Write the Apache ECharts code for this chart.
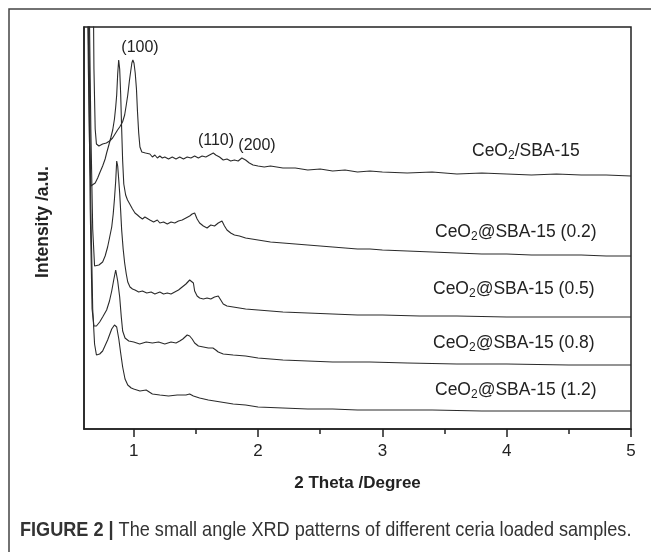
<!DOCTYPE html>
<html>
<head>
<meta charset="utf-8">
<script src="https://cdn.jsdelivr.net/npm/echarts@6/dist/echarts.min.js"></script>
<style>
html,body{margin:0;padding:0;background:#fff;}
#chart{width:651px;height:552px;}
</style>
</head>
<body>
<div id="chart"></div>
<script>
// Tick values
var majorTicks = [1, 2, 3, 4, 5];
var minorTicks = [1.5, 2.5, 3.5, 4.5];

// Series names
var seriesNames = ['CeO2/SBA-15', 'CeO2@SBA-15 (0.2)', 'CeO2@SBA-15 (0.5)', 'CeO2@SBA-15 (0.8)', 'CeO2@SBA-15 (1.2)'];

// Stacked intensity (offset, a.u.) vs 2 theta
var sbaCeO2 = [[0.665,700],[0.672,480],[0.68,360],[0.69,300],[0.70,285],[0.72,283],[0.75,285],[0.78,286],[0.806,288],[0.83,291],[0.85,295],[0.87,299],[0.887,302],[0.91,307],[0.927,314],[0.94,324],[0.952,334],[0.965,348],[0.976,358],[0.985,366],[0.993,369],[1.002,366],[1.012,356],[1.022,340],[1.03,318],[1.04,296],[1.05,282],[1.065,277],[1.08,275],[1.095,276],[1.11,274],[1.13,275],[1.15,272],[1.17,274],[1.19,271],[1.21,273],[1.23,271],[1.25,272],[1.28,270],[1.31,272],[1.34,270],[1.37,272],[1.40,270],[1.43,272],[1.46,271],[1.49,273],[1.52,271],[1.55,273],[1.58,272],[1.61,274],[1.64,276],[1.66,274],[1.69,272],[1.72,269],[1.75,270],[1.78,268],[1.81,269],[1.84,268],[1.87,271],[1.90,269],[1.93,266],[1.96,264],[2.0,263],[2.05,262],[2.1,263],[2.2,261],[2.3,261],[2.4,259],[2.5,260],[2.6,258],[2.7,259],[2.8,257],[2.9,258],[3.0,257],[3.2,256],[3.4,257],[3.6,255],[3.8,256],[4.0,255],[4.2,254],[4.4,255],[4.6,254],[4.8,254],[5.0,253]];
var sba02 = [[0.615,700],[0.625,480],[0.635,360],[0.645,280],[0.655,243],[0.67,242],[0.69,246],[0.71,251],[0.726,256],[0.75,263],[0.77,270],[0.782,276],[0.80,284],[0.815,291],[0.831,299],[0.845,310],[0.855,322],[0.863,334],[0.871,355],[0.879,369],[0.887,360],[0.895,335],[0.903,300],[0.911,268],[0.92,245],[0.935,234],[0.95,229],[0.968,225],[0.99,220],[1.01,216],[1.03,214],[1.048,212],[1.07,210],[1.09,212],[1.105,210],[1.13,209],[1.16,207],[1.19,209],[1.21,206],[1.24,207],[1.27,205],[1.30,207],[1.33,206],[1.36,208],[1.39,209],[1.42,211],[1.45,213],[1.47,215],[1.49,216],[1.51,210],[1.53,206],[1.56,203],[1.59,201],[1.62,204],[1.65,203],[1.68,206],[1.71,208],[1.73,203],[1.75,199],[1.78,196],[1.81,194],[1.85,193],[1.9,191],[1.95,190],[2.0,189],[2.1,187],[2.2,186],[2.3,185],[2.4,184],[2.5,183],[2.6,182],[2.7,181],[2.8,180],[2.9,180],[3.0,179],[3.2,178],[3.4,177],[3.6,176],[3.8,175],[4.0,175],[4.2,174],[4.4,174],[4.6,174],[4.8,173],[5.0,173]];
var sba05 = [[0.625,700],[0.64,450],[0.655,300],[0.67,200],[0.685,163],[0.70,162],[0.72,164],[0.75,167],[0.77,173],[0.79,182],[0.805,191],[0.823,202],[0.835,215],[0.845,230],[0.855,248],[0.863,268],[0.871,263],[0.879,250],[0.887,236],[0.895,218],[0.903,199],[0.915,180],[0.927,166],[0.94,155],[0.952,147],[0.97,142],[0.99,140],[1.01,139],[1.04,137],[1.07,138],[1.105,136],[1.14,137],[1.17,135],[1.21,137],[1.24,135],[1.27,136],[1.30,135],[1.33,137],[1.36,139],[1.39,142],[1.42,145],[1.45,149],[1.465,151],[1.48,146],[1.49,138],[1.51,133],[1.53,131],[1.56,130],[1.59,131],[1.62,130],[1.65,132],[1.68,133],[1.70,129],[1.72,125],[1.75,123],[1.80,122],[1.85,121],[1.9,120],[2.0,119],[2.1,118],[2.2,117],[2.4,116],[2.6,115],[2.8,114],[3.0,114],[3.3,113],[3.6,113],[4.0,112],[4.3,112],[4.6,112],[5.0,112]];
var sba08 = [[0.62,700],[0.635,400],[0.65,220],[0.665,120],[0.68,103],[0.70,103],[0.726,107],[0.75,112],[0.782,119],[0.805,128],[0.823,138],[0.839,149],[0.855,159],[0.863,157],[0.871,148],[0.887,132],[0.90,112],[0.911,98],[0.93,91],[0.96,88],[1.0,87],[1.048,85],[1.1,87],[1.15,86],[1.2,87],[1.25,85],[1.3,87],[1.34,86],[1.37,88],[1.395,90],[1.43,94],[1.45,93],[1.47,90],[1.49,86],[1.52,83],[1.56,82],[1.60,81],[1.637,81],[1.66,79],[1.68,77],[1.72,75],[1.80,74],[1.9,73],[2.0,71],[2.1,70],[2.2,69],[2.4,68],[2.6,67],[2.9,67],[3.2,66],[3.6,65],[4.0,65],[4.5,64],[5.0,64]];
var sba12 = [[0.625,700],[0.64,400],[0.655,220],[0.67,120],[0.685,85],[0.70,74],[0.71,72],[0.726,75],[0.75,78],[0.79,89],[0.823,100],[0.845,104],[0.855,105],[0.863,102],[0.88,90],[0.895,76],[0.911,62],[0.93,50],[0.952,44],[0.98,41],[1.0,40],[1.05,38],[1.1,39],[1.15,35],[1.21,34],[1.28,33],[1.35,34],[1.42,34],[1.45,35],[1.48,33],[1.53,31],[1.6,29],[1.7,27],[1.8,25],[1.9,24],[2.0,22],[2.2,21],[2.4,20],[2.6,20],[2.8,19],[3.0,19],[3.4,19],[3.8,18],[4.2,18],[4.6,18],[5.0,18]];

var seriesData = [sbaCeO2, sba02, sba05, sba08, sba12];

var lineColor = '#2b2b2b';
var textColor = '#222';
var fontFam = '"Liberation Sans", Arial, Helvetica, sans-serif';

var chart = echarts.init(document.getElementById('chart'), null, {renderer: 'canvas'});

var series = seriesData.map(function (d, i) {
  return {
    name: seriesNames[i],
    type: 'line',
    data: d,
    showSymbol: false,
    symbol: 'none',
    clip: true,
    lineStyle: {color: lineColor, width: 1.1},
    animation: false
  };
});

function sampleLabel(suffix, left, cy) {
  return {
    type: 'text',
    left: left,
    top: cy - 8,
    style: {
      text: '{n|CeO}{s|2}{n|' + suffix + '}',
      rich: {
        n: {fontSize: 17.5, fontFamily: fontFam, fill: textColor},
        s: {fontSize: 12, fontFamily: fontFam, fill: textColor, padding: [10, 0, 0, 0]}
      }
    }
  };
}

function hkl(text, cx, cy) {
  return {
    type: 'text',
    x: cx, y: cy,
    style: {text: text, fontSize: 16, fontFamily: fontFam, fill: textColor, align: 'center', verticalAlign: 'middle'}
  };
}

var option = {
  backgroundColor: '#fff',
  animation: false,
  grid: {left: 84, right: 20, top: 27, bottom: 123, show: true, borderColor: '#222', borderWidth: 1.5, backgroundColor: 'transparent'},
  xAxis: [{
    type: 'value', min: 0.6, max: 5,
    name: '2 Theta /Degree', nameLocation: 'middle', nameGap: 46,
    nameTextStyle: {fontSize: 17, fontWeight: 'bold', fontFamily: fontFam, color: textColor},
    axisLine: {show: true, lineStyle: {color: '#222', width: 1.5}},
    axisTick: {show: true, inside: false, length: 8, customValues: majorTicks, lineStyle: {color: '#222', width: 1.5}},
    axisLabel: {show: true, customValues: majorTicks, fontSize: 17, fontFamily: fontFam, color: textColor, margin: 14},
    splitLine: {show: false}
  }, {
    type: 'value', min: 0.6, max: 5, position: 'bottom',
    axisLine: {show: false},
    axisTick: {show: true, inside: false, length: 5, customValues: minorTicks, lineStyle: {color: '#222', width: 1.5}},
    axisLabel: {show: false},
    splitLine: {show: false}
  }],
  yAxis: {
    type: 'value', min: 0, max: 402,
    axisLine: {show: true, lineStyle: {color: '#222', width: 1.5}},
    axisTick: {show: false},
    axisLabel: {show: false},
    splitLine: {show: false}
  },
  series: series,
  graphic: [
    {type: 'rect', shape: {x: 9, y: 9, width: 700, height: 600}, style: {fill: 'none', stroke: '#444', lineWidth: 1.5}, silent: true},
    {type: 'text', x: 43, y: 222, rotation: Math.PI / 2,
      style: {text: 'Intensity /a.u.', fontSize: 17.5, fontWeight: 'bold', fontFamily: fontFam, fill: textColor, align: 'center', verticalAlign: 'middle'}},
    hkl('(100)', 140, 48),
    hkl('(110)', 216, 141),
    hkl('(200)', 257, 146),
    sampleLabel('/SBA-15', 472, 150),
    sampleLabel('@SBA-15 (0.2)', 435, 231),
    sampleLabel('@SBA-15 (0.5)', 433, 288),
    sampleLabel('@SBA-15 (0.8)', 433, 342),
    sampleLabel('@SBA-15 (1.2)', 435, 389),
    {
      type: 'text', x: 20, y: 530, scaleX: 0.862, scaleY: 1,
      style: {
        x: 0, y: 0, align: 'left', verticalAlign: 'middle',
        text: '{b|FIGURE 2 |}{r| The small angle XRD patterns of different ceria loaded samples.}',
        rich: {
          b: {fontSize: 21, fontWeight: 'bold', fontFamily: fontFam, fill: '#333'},
          r: {fontSize: 21, fontFamily: fontFam, fill: '#333'}
        }
      }
    }
  ]
};
chart.setOption(option);
</script>
</body>
</html>
